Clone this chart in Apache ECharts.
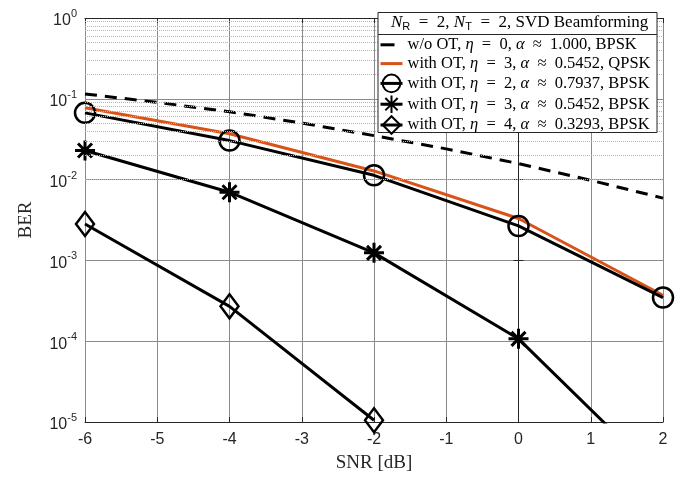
<!DOCTYPE html>
<html>
<head>
<meta charset="utf-8">
<script src="https://cdn.jsdelivr.net/npm/echarts@6/dist/echarts.min.js"></script>
<style>
html, body { margin: 0; padding: 0; background: #fff; }
#chart { width: 685px; height: 478px; }
</style>
</head>
<body>
<div id="chart"></div>
<script>
// SNR in dB
var snrAll = [-6, -5, -4, -3, -2, -1, 0, 1, 2];
var snrEven = [-6, -4, -2, 0, 2];

// BER
var berNoOT = [0.115, 0.0902, 0.0692, 0.0501, 0.035, 0.024, 0.0158, 0.0098, 0.0059];
var berEta3Qpsk = [0.0773, 0.037, 0.0128, 0.0033, 0.00037];
var berEta2 = [0.067, 0.0304, 0.0113, 0.00267, 0.000347];
var berEta3 = [0.0229, 0.00698, 0.00124, 0.000107, 0.0000019];
var berEta4 = [0.00282, 0.00027, 0.0000105];

var names = [
  'w/o OT, η = 0, α ≈ 1.000, BPSK',
  'with OT, η = 3, α ≈ 0.5452, QPSK',
  'with OT, η = 2, α ≈ 0.7937, BPSK',
  'with OT, η = 3, α ≈ 0.5452, BPSK',
  'with OT, η = 4, α ≈ 0.3293, BPSK'
];

// dotted minor grid lines (2..9 x 10^k)
var minorLines = [];
for (var d = -5; d < 0; d++) {
  for (var k = 2; k <= 9; k++) {
    minorLines.push({ yAxis: k * Math.pow(10, d) });
  }
}

function pairs(xs, ys) {
  return ys.map(function (y, i) { return [xs[i], y]; });
}

// math-like spacing around relations
function mathText(n) {
  return n.replace(/ ([=≈]) /g, '\u2002$1\u2002')
    .replace(/η/g, '{i|η}').replace(/α/g, '{i|α}');
}

var starPath = 'path://M0,-10L0,10M-10,0L10,0M-7,-7L7,7M-7,7L7,-7';
var noMarker = { color: 'rgba(0,0,0,0)', borderColor: 'rgba(0,0,0,0)', borderWidth: 0 };

var chart = echarts.init(document.getElementById('chart'));
chart.setOption({
  backgroundColor: '#fff',
  animation: false,
  grid: { left: 85, right: 22, top: 18, bottom: 53 },
  xAxis: [{
    type: 'value', min: -6, max: 2, interval: 1,
    axisLine: { lineStyle: { color: '#262626', width: 1 } },
    axisTick: { inside: true, length: 5, lineStyle: { color: '#262626' } },
    axisLabel: { color: '#262626', fontSize: 16, fontFamily: 'Liberation Sans', margin: 10 },
    splitLine: { show: true, lineStyle: { color: '#8a8a8a', width: 1 } },
    name: 'SNR [dB]', nameLocation: 'middle', nameGap: 32,
    nameTextStyle: { color: '#262626', fontSize: 19, fontFamily: 'Liberation Serif' }
  }, {
    type: 'value', position: 'top', min: -6, max: 2, interval: 1,
    axisLine: { show: true, lineStyle: { color: '#262626' } },
    axisTick: { show: true, inside: true, length: 5, lineStyle: { color: '#262626' } },
    axisLabel: { show: false }, splitLine: { show: false }
  }],
  yAxis: [{
    type: 'log', logBase: 10, min: 1e-5, max: 1,
    axisLine: { show: true, lineStyle: { color: '#262626' } },
    axisTick: { show: true, inside: true, length: 5, lineStyle: { color: '#262626' } },
    axisLabel: {
      color: '#262626', margin: 8,
      formatter: function (v) {
        return '{b|10}{e|' + Math.round(Math.log10(v)) + '}';
      },
      rich: {
        b: { fontSize: 16, fontFamily: 'Liberation Sans', color: '#262626', padding: [6, 0, 0, 0] },
        e: { fontSize: 11, fontFamily: 'Liberation Sans', color: '#262626', padding: [0, 0, 8, 0] }
      }
    },
    splitLine: { show: true, lineStyle: { color: '#8a8a8a', width: 1 } },
    name: 'BER', nameLocation: 'middle', nameGap: 49, nameRotate: 90,
    nameTextStyle: { color: '#262626', fontSize: 19, fontFamily: 'Liberation Serif' }
  }, {
    type: 'log', logBase: 10, min: 1e-5, max: 1, position: 'right',
    axisLine: { show: true, lineStyle: { color: '#262626' } },
    axisTick: { show: true, inside: true, length: 5, lineStyle: { color: '#262626' } },
    axisLabel: { show: false }, splitLine: { show: false }
  }],
  legend: {
    orient: 'vertical', left: 374, top: 31, z: 20,
    itemWidth: 22, itemHeight: 22, itemGap: 1.2,
    data: [
      { name: names[0], itemStyle: noMarker, lineStyle: { type: [14, 20], width: 3 } },
      { name: names[1], itemStyle: noMarker, lineStyle: { width: 3 } },
      { name: names[2], lineStyle: { width: 3 } },
      { name: names[3], lineStyle: { width: 3 } },
      { name: names[4], lineStyle: { width: 3 } }
    ],
    formatter: mathText,
    textStyle: {
      color: '#000', fontSize: 16.5, fontFamily: 'Liberation Serif',
      rich: { i: { fontStyle: 'italic', fontSize: 16.5, fontFamily: 'Liberation Serif' } }
    }
  },
  graphic: [{
    type: 'rect', z: 15,
    shape: { x: 378, y: 12.5, width: 279, height: 120 },
    style: { fill: '#fff', stroke: '#262626', lineWidth: 1 }
  }, {
    type: 'line', z: 16,
    shape: { x1: 378, y1: 34.5, x2: 657, y2: 34.5 },
    style: { stroke: '#262626', lineWidth: 1 }
  }, {
    type: 'text', z: 16, left: 391, top: 14,
    style: {
      text: '{n|N}{s|R}{t|\u2002=\u20022, }{n|N}{s|T}{t|\u2002=\u20022, SVD Beamforming}',
      rich: {
        n: { fontSize: 17, fontStyle: 'italic', fontFamily: 'Liberation Serif', fill: '#000' },
        s: { fontSize: 11, fontFamily: 'Liberation Sans', fill: '#000', padding: [8, 0, 0, 0] },
        t: { fontSize: 17, fontFamily: 'Liberation Serif', fill: '#000' }
      }
    }
  }],
  series: [{
    type: 'line', name: '__grid', data: [], silent: true,
    markLine: {
      silent: true, symbol: ['none', 'none'], label: { show: false },
      lineStyle: { type: 'dotted', color: '#b4b4b4', width: 1 },
      data: minorLines
    }
  }, {
    type: 'line', name: names[0], data: pairs(snrAll, berNoOT),
    showSymbol: false, symbol: 'none',
    lineStyle: { color: '#000', width: 3, type: [12, 8] },
    itemStyle: { color: '#000' }
  }, {
    type: 'line', name: names[1], data: pairs(snrEven, berEta3Qpsk),
    symbol: 'none',
    lineStyle: { color: '#D95319', width: 3 },
    itemStyle: { color: '#D95319' }
  }, {
    type: 'line', name: names[2], data: pairs(snrEven, berEta2),
    symbol: 'circle', symbolSize: 20,
    lineStyle: { color: '#000', width: 3 },
    itemStyle: { color: 'rgba(0,0,0,0)', borderColor: '#000', borderWidth: 2.5 }
  }, {
    type: 'line', name: names[3], data: pairs(snrEven, berEta3),
    symbol: starPath, symbolSize: 20,
    lineStyle: { color: '#000', width: 3 },
    itemStyle: { color: 'rgba(0,0,0,0)', borderColor: '#000', borderWidth: 3 }
  }, {
    type: 'line', name: names[4], data: pairs(snrEven, berEta4),
    symbol: 'diamond', symbolSize: [18, 24],
    lineStyle: { color: '#000', width: 3 },
    itemStyle: { color: 'rgba(0,0,0,0)', borderColor: '#000', borderWidth: 2.5 }
  }]
});
</script>
</body>
</html>
